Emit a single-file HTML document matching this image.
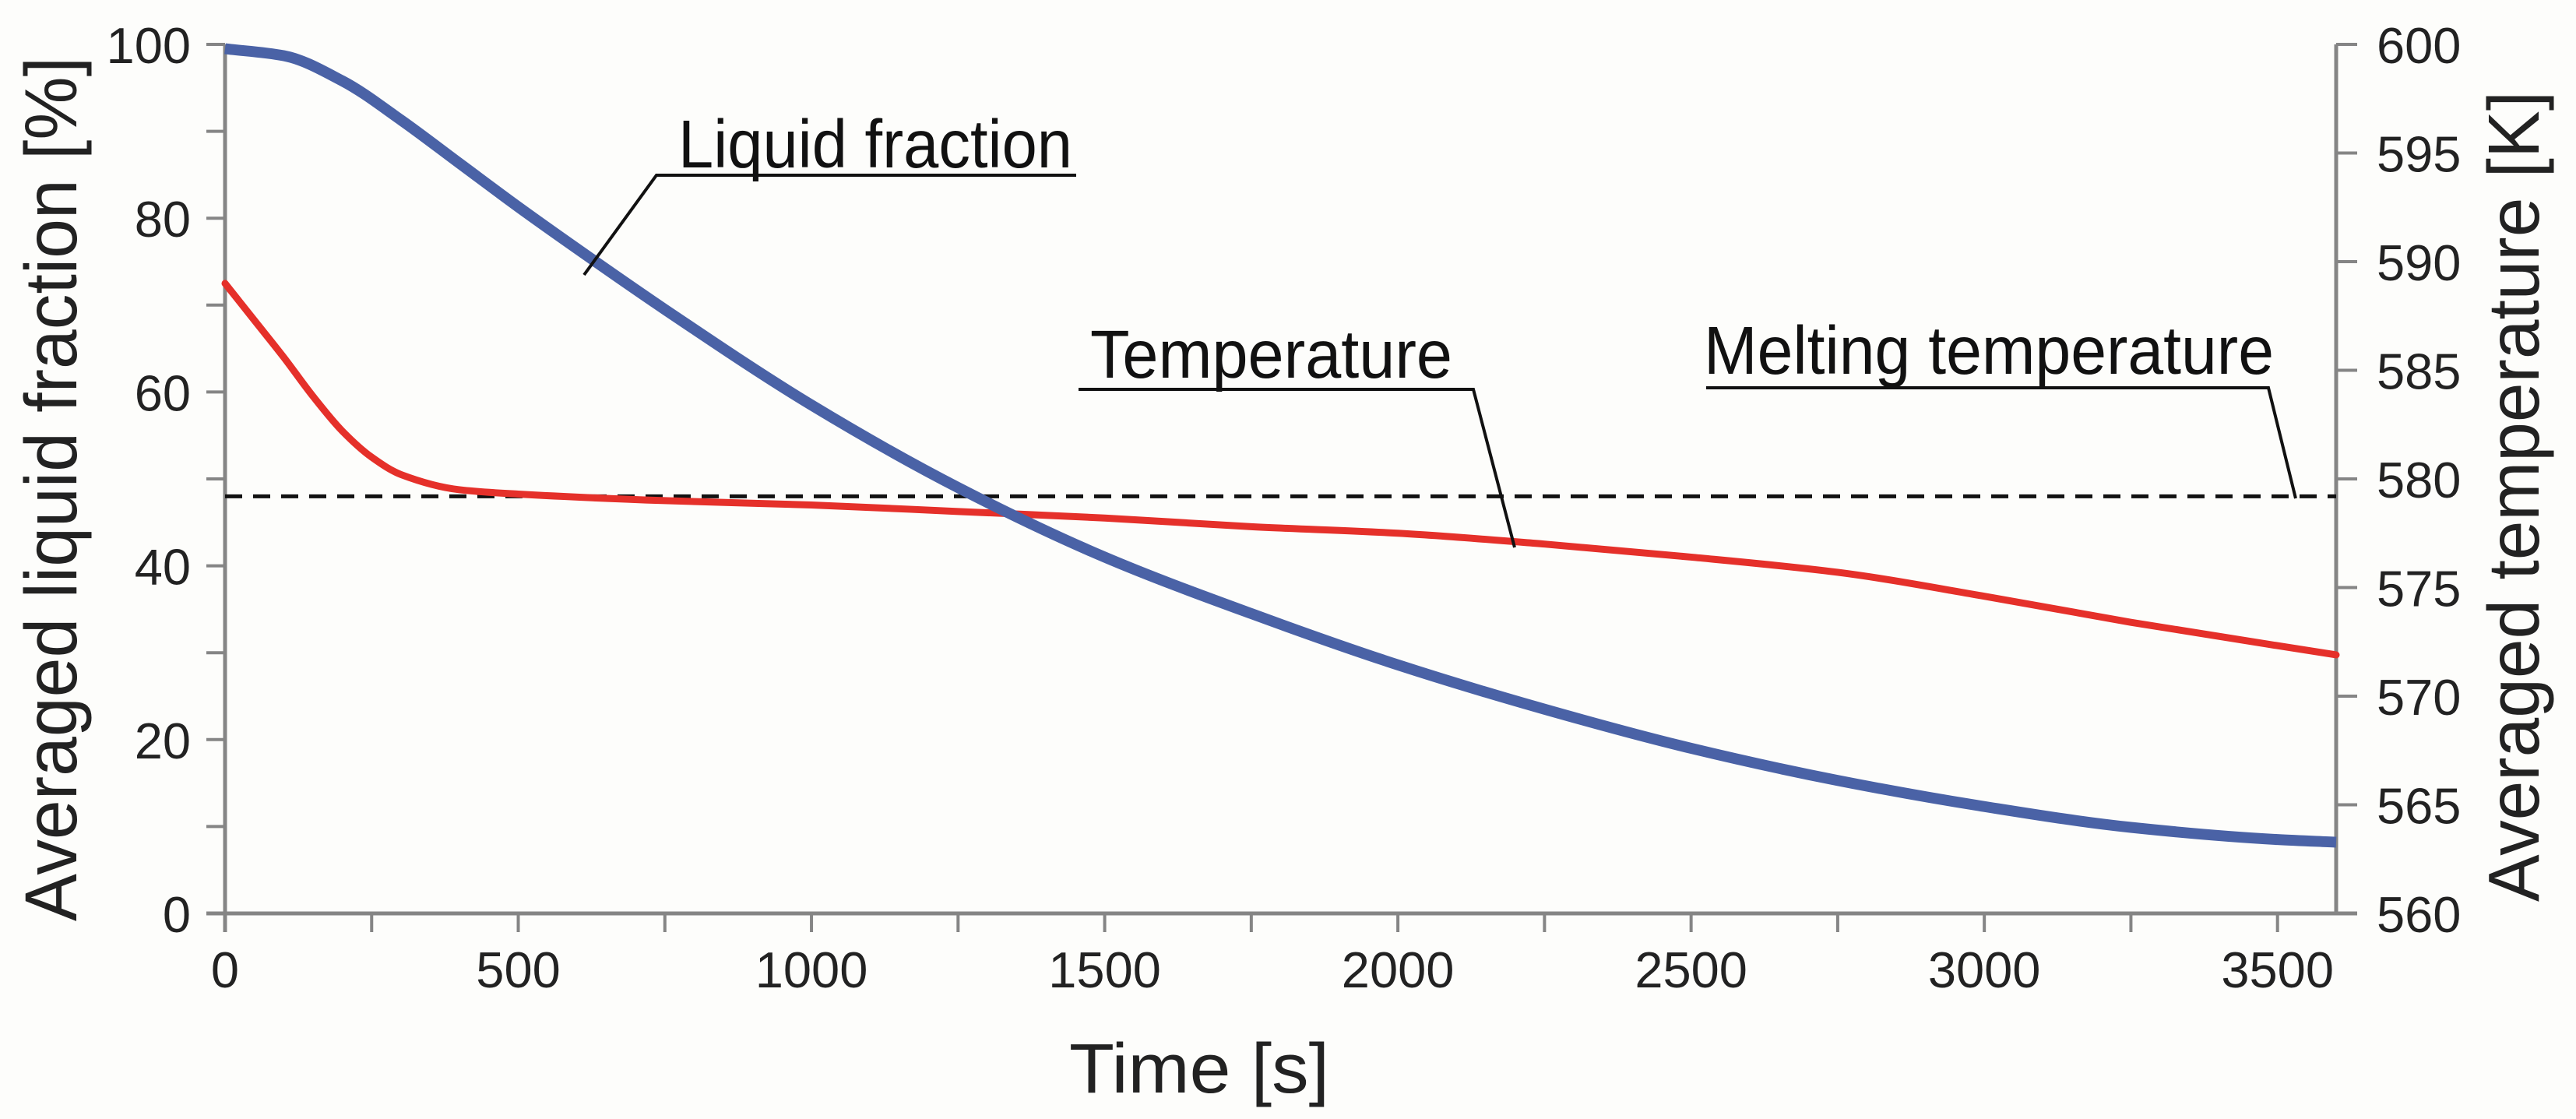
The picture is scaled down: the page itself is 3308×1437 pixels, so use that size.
<!DOCTYPE html>
<html><head><meta charset="utf-8"><style>
html,body{margin:0;padding:0;background:#fdfdfb;}
svg{display:block;font-family:"Liberation Sans",Arial,sans-serif;}
</style></head><body>
<svg id="chart" width="3308" height="1437" viewBox="0 0 3308 1437" xmlns="http://www.w3.org/2000/svg">
<rect x="0" y="0" width="3308" height="1437" fill="#fdfdfb"/>
<g id="grid"></g>
<g id="series"></g>
<g id="annot"></g>
</svg>
<script>
const timeS = [0,100,200,300,400,500,600,750,1000,1250,1500,1750,2000,2250,2500,2750,3000,3250,3500,3600];
const liquidFraction = [99.5,98.7,95.8,91.3,86.3,81.3,76.5,69.5,58.5,49.0,41.0,34.5,28.6,23.5,19.0,15.3,12.3,9.9,8.5,8.2];
const tempTime = [0,50,100,150,200,250,300,400,500,750,1000,1250,1500,1750,2000,2250,2500,2750,3000,3250,3600];
const temperatureK = [589.0,587.3,585.6,583.8,582.2,581.0,580.2,579.5,579.3,579.0,578.8,578.5,578.2,577.8,577.5,577.0,576.4,575.7,574.6,573.4,571.9];
const meltingK = [579.2];
const xTicks = [0,500,1000,1500,2000,2500,3000,3500];
const yLeftTicks = [0,20,40,60,80,100];
const yRightTicks = [560,565,570,575,580,585,590,595,600];

const NS="http://www.w3.org/2000/svg";
const X0=289,X1=3000,YT=57,YB=1173;
const xs=t=>X0+(t/3600)*(X1-X0);
const yl=v=>YB-(v/100)*(YB-YT);
const yr=k=>YB-((k-560)/40)*(YB-YT);
function mk(tag,attrs,parent,txt){const e=document.createElementNS(NS,tag);for(const k in attrs)e.setAttribute(k,attrs[k]);if(txt!==undefined)e.textContent=txt;parent.appendChild(e);return e;}
function smooth(pts){const n=pts.length,dx=[],m=[],t=[];
for(let i=0;i<n-1;i++){dx.push(pts[i+1][0]-pts[i][0]);m.push((pts[i+1][1]-pts[i][1])/dx[i]);}
t[0]=m[0];t[n-1]=m[n-2];
for(let i=1;i<n-1;i++){if(m[i-1]*m[i]<=0)t[i]=0;else{const w1=2*dx[i]+dx[i-1],w2=dx[i]+2*dx[i-1];t[i]=(w1+w2)/(w1/m[i-1]+w2/m[i]);}}
let d=`M${pts[0][0]},${pts[0][1]}`;
for(let i=0;i<n-1;i++){const h=dx[i]/3;d+=` C${pts[i][0]+h},${pts[i][1]+t[i]*h} ${pts[i+1][0]-h},${pts[i+1][1]-t[i+1]*h} ${pts[i+1][0]},${pts[i+1][1]}`;}
return d;}

const g=document.getElementById('grid');
const ax='#858585';
let e;
e=mk('line',{x1:X0,y1:YT,x2:X0,y2:YB+24,stroke:ax,'stroke-width':5},g);


e=mk('line',{x1:X1,y1:YT,x2:X1,y2:YB,stroke:ax,'stroke-width':5},g);


e=mk('line',{x1:265,y1:YB,x2:3027,y2:YB,stroke:ax,'stroke-width':5},g);


for(let v=0;v<=100;v+=10){e=mk('line',{x1:265,y1:yl(v),x2:X0,y2:yl(v),stroke:ax,'stroke-width':4},g);

}
yLeftTicks.forEach(v=>{e=mk('text',{x:245,y:yl(v)+24,'text-anchor':'end','font-size':65,fill:'#222'},g,String(v));

});
yRightTicks.forEach(k=>{e=mk('line',{x1:X1,y1:yr(k),x2:3027,y2:yr(k),stroke:ax,'stroke-width':4},g);


e=mk('text',{x:3052,y:yr(k)+24,'font-size':65,fill:'#222'},g,String(k));

});
for(let t=250;t<3600;t+=250){e=mk('line',{x1:xs(t),y1:YB,x2:xs(t),y2:YB+24,stroke:ax,'stroke-width':4},g);

}
xTicks.forEach(t=>{e=mk('text',{x:xs(t),y:1268,'text-anchor':'middle','font-size':65,fill:'#222'},g,String(t));

});
e=mk('text',{x:1540,y:1403,'text-anchor':'middle','font-size':90,fill:'#222',textLength:334,lengthAdjust:'spacingAndGlyphs'},g,'Time [s]');


e=mk('text',{x:0,y:0,'font-size':95,fill:'#222',textLength:1110,lengthAdjust:'spacingAndGlyphs',transform:'translate(98,1183) rotate(-90)'},g,'Averaged liquid fraction [%]');


e=mk('text',{x:0,y:0,'font-size':93,fill:'#222',textLength:1041,lengthAdjust:'spacingAndGlyphs',transform:'translate(3260,1158) rotate(-90)'},g,'Averaged temperature [K]');



const s=document.getElementById('series');
e=mk('line',{x1:X0,y1:yr(meltingK[0]),x2:X1,y2:yr(meltingK[0]),stroke:'#111','stroke-width':5,'stroke-dasharray':'22 14'},s);


e=mk('path',{d:smooth(tempTime.map((t,i)=>[xs(t),yr(temperatureK[i])])),fill:'none',stroke:'#e5302a','stroke-width':9,'stroke-linecap':'round'},s);


e=mk('path',{d:smooth(timeS.map((t,i)=>[xs(t),yl(liquidFraction[i])])),fill:'none',stroke:'#4a62a6','stroke-width':14},s);



const a=document.getElementById('annot');
function label(name,text,tx,ty,tl,path){
  const t=mk('text',{x:tx,y:ty,'font-size':87,fill:'#111',textLength:tl,lengthAdjust:'spacingAndGlyphs'},a,text);
  
  
  const p=mk('polyline',{points:path,fill:'none',stroke:'#111','stroke-width':4},a);
  
  
}
label('liquid-fraction','Liquid fraction',871,215,506,'1382,225 843,225 750,353');
label('temperature','Temperature',1400,485,465,'1385,500 1892,500 1945,703');
label('melting-temperature','Melting temperature',2188,480,732,'2191,498 2913,498 2948,640');
</script>
</body></html>
